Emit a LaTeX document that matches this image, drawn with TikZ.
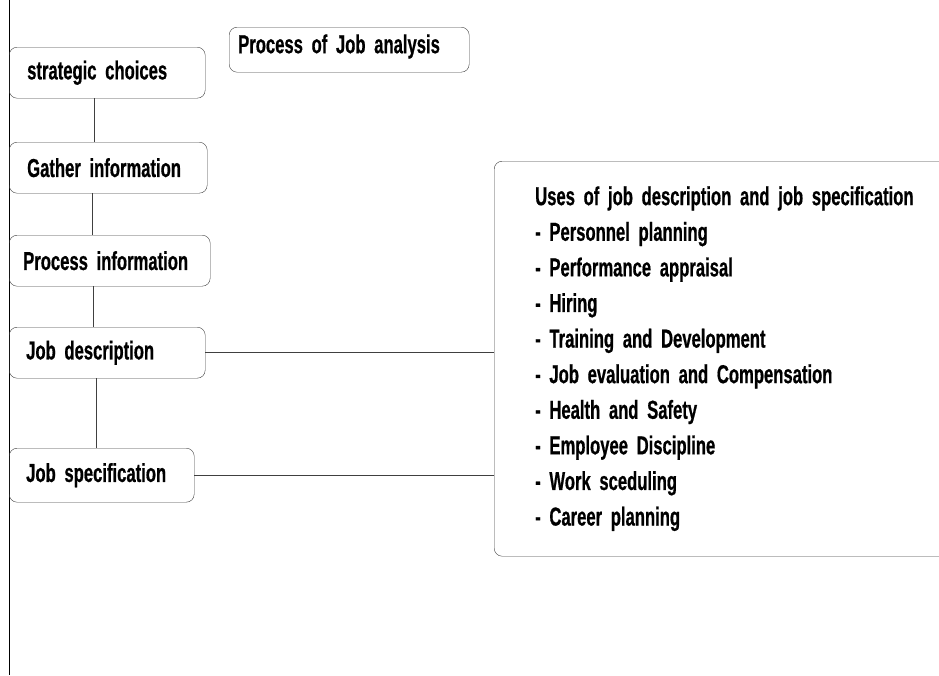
\documentclass[tikz,border=0pt]{standalone}
\usepackage{fontspec}
\setmainfont{Liberation Sans}[FakeStretch=0.64, FakeBold=0.6]
\usetikzlibrary{positioning}
\hyphenpenalty=10000
\exhyphenpenalty=10000
\newcommand\boxfont{\bfseries\fontsize{26}{35.6}\selectfont\spaceskip=5pt plus 1pt\relax}

\begin{document}
\begin{tikzpicture}[x=1pt,y=-1pt]
\clip (0,0) rectangle (939,675);
\draw[line width=1pt] (9,0) -- (9,675);
	\begin{scope}[every node/.style = {draw=black!75, rounded corners=8pt,
		anchor=north west, align=left, inner xsep=18pt, inner ysep=2pt,
		minimum height=51pt, font=\boxfont}]
		\node[text width=160pt] (strat) at (9,47) {strategic choices};
		\node[text width=162pt] (gath) at (9,142) {Gather information};
		\node[text width=173pt, inner xsep=14pt] (proc) at (9,235) {Process information};
		\node[text width=162pt, inner xsep=17pt] (jdesc) at (9,327) {Job description};
		\node[text width=151pt, inner xsep=17pt, minimum height=54pt] (jspec) at (9,448) {Job specification};
		\node[text width=222pt, inner xsep=9pt, inner ysep=3pt, minimum height=0pt,
			text height=23pt, text depth=16pt] (title) at (229,27) {Process of Job analysis};
		\node[text width=400pt, inner xsep=41pt, minimum height=395pt] (uses) at (494,161)
			{Uses of job description and job specification\\
			- Personnel planning\\
			- Performance appraisal\\
			- Hiring\\
			- Training and Development\\
			- Job evaluation and Compensation\\
			- Health and Safety\\
			- Employee Discipline\\
			- Work sceduling\\
			- Career planning};
	\end{scope}
	\begin{scope}[every path/.style={draw=black!75, line width=0.8pt}]
		\path (strat.south -| 94,0) edge (gath.north -| 94,0);
		\path (gath.south -| 92,0) edge (proc.north -| 92,0);
		\path (proc.south -| 93,0) edge (jdesc.north -| 93,0);
		\path (jdesc.south -| 96,0) edge (jspec.north -| 96,0);
		\path (jdesc.east) edge (jdesc.east -| uses.west);
		\path (jspec.east) edge (jspec.east -| uses.west);
	\end{scope}
\end{tikzpicture}
\end{document}
